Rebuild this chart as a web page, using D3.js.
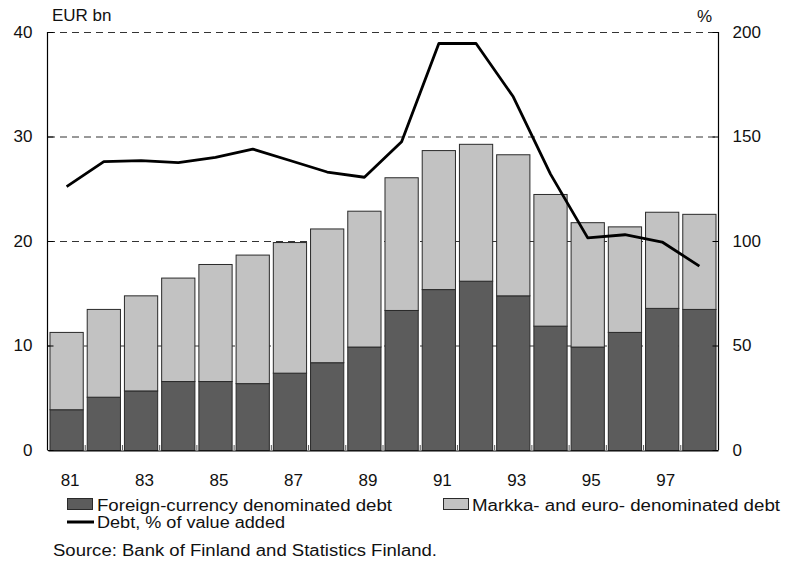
<!DOCTYPE html>
<html>
<head>
<meta charset="utf-8">
<script src="https://cdn.jsdelivr.net/npm/d3@7"></script>
<style>
  body { margin: 0; background: #fff; }
  svg text { font-family: "Liberation Sans", Arial, sans-serif; fill: #111; }
</style>
</head>
<body>
<svg id="chart" width="791" height="563"></svg>
<script>
const years = ["81","82","83","84","85","86","87","88","89","90","91","92","93","94","95","96","97","98"];
const foreignDebt = [3.9, 5.1, 5.7, 6.6, 6.6, 6.4, 7.4, 8.4, 9.9, 13.4, 15.4, 16.2, 14.8, 11.9, 9.9, 11.3, 13.6, 13.5];
const markkaDebt = [7.4, 8.4, 9.1, 9.9, 11.2, 12.3, 12.5, 12.8, 13.0, 12.7, 13.3, 13.1, 13.5, 12.6, 11.9, 10.1, 9.2, 9.1];
const debtPct = [126, 138, 138.5, 137.5, 140, 144, 138.5, 133, 130.5, 147.5, 194.5, 194.5, 169, 132, 101.5, 103, 99.5, 88];
const leftTicks = [0, 10, 20, 30, 40];
const rightTicks = [0, 50, 100, 150, 200];
const xLabels = ["81","83","85","87","89","91","93","95","97"];

const plotLeft = 48, plotRight = 718, plotTop = 32, plotBottom = 450;
const darkFill = "#5c5c5c", lightFill = "#c2c2c2";

const svg = d3.select("#chart");

const x = d3.scaleBand().domain(years).range([plotLeft, plotRight]).paddingInner(0.08).paddingOuter(0.04);
const y = d3.scaleLinear().domain([0, 40]).range([plotBottom, plotTop]);
const y2 = d3.scaleLinear().domain([0, 200]).range([plotBottom, plotTop]);

// dashed gridlines (the one at 40 acts as the top frame)
svg.append("g")
  .selectAll("line")
  .data(leftTicks.filter(d => d > 0))
  .join("line")
  .attr("x1", plotLeft).attr("x2", plotRight)
  .attr("y1", d => y(d) + 0.5).attr("y2", d => y(d) + 0.5)
  .attr("stroke", "#333")
  .attr("stroke-dasharray", "7,5");

// little ticks between bars on the bottom axis
svg.append("g")
  .selectAll("line")
  .data(years.slice(1))
  .join("line")
  .attr("x1", d => x(d) - x.step() * x.paddingInner() / 2)
  .attr("x2", d => x(d) - x.step() * x.paddingInner() / 2)
  .attr("y1", plotBottom).attr("y2", plotBottom - 5)
  .attr("stroke", "#555");

// stacked bars
const rows = years.map((yr, i) => ({ year: yr, foreign: foreignDebt[i], markka: markkaDebt[i] }));
const stack = d3.stack().keys(["foreign", "markka"])(rows);
const fills = { foreign: darkFill, markka: lightFill };

svg.append("g")
  .selectAll("g")
  .data(stack)
  .join("g")
  .attr("fill", d => fills[d.key])
  .selectAll("rect")
  .data(d => d)
  .join("rect")
  .attr("x", d => x(d.data.year) + 0.5)
  .attr("y", d => y(d[1]) + 0.5)
  .attr("width", x.bandwidth() - 1)
  .attr("height", d => y(d[0]) - y(d[1]))
  .attr("stroke", "#2a2a2a")
  .attr("stroke-width", 1);

// line
const line = d3.line()
  .x((d, i) => x(years[i]) + x.bandwidth() / 2)
  .y(d => y2(d));

svg.append("path")
  .datum(debtPct)
  .attr("fill", "none")
  .attr("stroke", "#000")
  .attr("stroke-width", 2.8)
  .attr("stroke-linejoin", "round")
  .attr("d", line);

// axes
const yAxis = svg.append("g")
  .attr("transform", `translate(${plotLeft - 0.5},0)`)
  .call(d3.axisLeft(y).tickValues(leftTicks).tickSize(-6).tickSizeOuter(0).tickPadding(15));
const y2Axis = svg.append("g")
  .attr("transform", `translate(${plotRight + 0.5},0)`)
  .call(d3.axisRight(y2).tickValues(rightTicks).tickSize(-6).tickSizeOuter(0).tickPadding(14));
const xAxis = svg.append("g")
  .attr("transform", `translate(0,${plotBottom + 0.5})`)
  .call(d3.axisBottom(x).tickSize(0).tickPadding(23).tickFormat(d => xLabels.includes(d) ? d : ""));

[yAxis, y2Axis, xAxis].forEach(g => {
  g.selectAll("path.domain").attr("stroke", "#000").attr("stroke-width", 1.2);
  g.selectAll(".tick line").attr("stroke", "#000");
  g.selectAll("text").attr("font-size", 17).attr("font-family", "Liberation Sans, Arial, sans-serif").attr("fill", "#111");
});
xAxis.selectAll("text").attr("dx", 3.5);
// top 40 level is drawn by the dashed grid only
yAxis.select("path.domain").attr("d", `M0,${plotBottom}V${plotTop}`);
y2Axis.select("path.domain").attr("d", `M0,${plotBottom}V${plotTop}`);

// unit labels
svg.append("text").attr("x", 52).attr("y", 21).attr("font-size", 17).text("EUR bn");
svg.append("text").attr("x", 712).attr("y", 22).attr("font-size", 17).attr("text-anchor", "end").text("%");

// legend
const legend = svg.append("g").attr("font-size", 16);
legend.append("rect").attr("x", 67.5).attr("y", 498.5).attr("width", 25).attr("height", 11)
  .attr("fill", darkFill).attr("stroke", "#2a2a2a");
legend.append("text").attr("x", 97).attr("y", 511)
  .attr("textLength", 295).attr("lengthAdjust", "spacingAndGlyphs")
  .text("Foreign-currency denominated debt");
legend.append("rect").attr("x", 443.5).attr("y", 498.5).attr("width", 25).attr("height", 11)
  .attr("fill", lightFill).attr("stroke", "#2a2a2a");
legend.append("text").attr("x", 472).attr("y", 511)
  .attr("textLength", 308).attr("lengthAdjust", "spacingAndGlyphs")
  .text("Markka- and euro- denominated debt");
legend.append("line").attr("x1", 67).attr("x2", 94).attr("y1", 522).attr("y2", 522)
  .attr("stroke", "#000").attr("stroke-width", 3);
legend.append("text").attr("x", 97).attr("y", 528)
  .attr("textLength", 188).attr("lengthAdjust", "spacingAndGlyphs")
  .text("Debt, % of value added");

svg.append("text").attr("x", 53).attr("y", 556).attr("font-size", 16)
  .attr("textLength", 384).attr("lengthAdjust", "spacingAndGlyphs")
  .text("Source: Bank of Finland and Statistics Finland.");
</script>
</body>
</html>
